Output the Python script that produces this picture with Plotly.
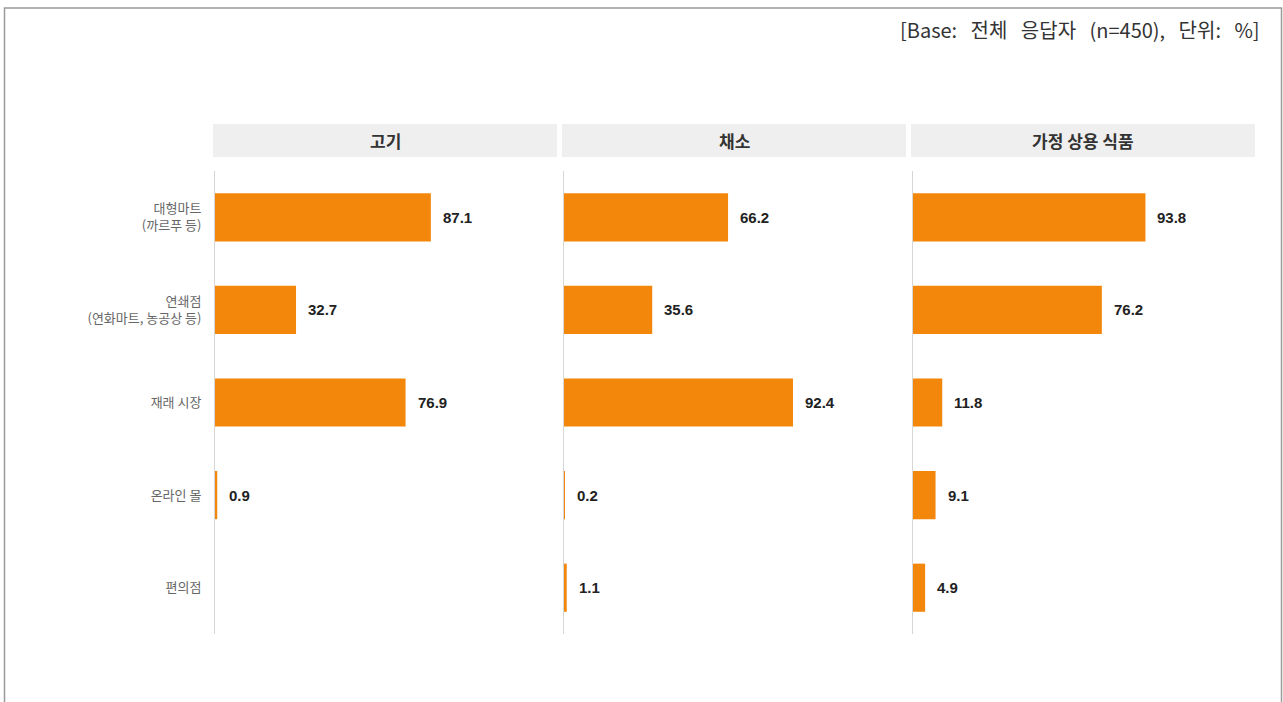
import plotly.graph_objects as go

W, H = 1283, 702

categories = ["대형마트<br>(까르푸 등)", "연쇄점<br>(연화마트, 농공상 등)", "재래 시장", "온라인 몰", "편의점"]
panel_titles = ["고기", "채소", "가정 상용 식품"]
meat = [87.1, 32.7, 76.9, 0.9, None]
vegetables = [66.2, 35.6, 92.4, 0.2, 1.1]
household_food = [93.8, 76.2, 11.8, 9.1, 4.9]
series = [meat, vegetables, household_food]
note = "[Base:   전체   응답자   (n=450),   단위:   %]"

BAR = "#F3870B"
FONT = "Noto Sans CJK KR"

panels_px = [(215, 557), (564, 906), (913, 1255)]
y_top_px, y_bot_px = 171, 634
xmax = 138

fig = go.Figure()
shapes = []
annotations = []

for i, (vals, title, (x0, x1)) in enumerate(zip(series, panel_titles, panels_px)):
    xa = "x" if i == 0 else f"x{i+1}"
    ya = "y" if i == 0 else f"y{i+1}"
    fig.add_trace(go.Bar(
        x=vals, y=categories, orientation="h",
        marker=dict(color=BAR, line=dict(width=0)),
        xaxis=xa, yaxis=ya, showlegend=False, hoverinfo="x+y",
    ))
    for c, v in zip(categories, vals):
        if v is None:
            continue
        annotations.append(dict(
            x=v, y=c, xref=xa, yref=ya, text=f"<b>{v:.1f}</b>",
            showarrow=False, xanchor="left", xshift=10,
            font=dict(family="Arial, Liberation Sans", size=15, color="#222"),
        ))
    key = "" if i == 0 else str(i + 1)
    fig.layout[f"xaxis{key}"] = dict(
        domain=[x0 / W, x1 / W], range=[0, xmax], visible=False, fixedrange=True,
    )
    fig.layout[f"yaxis{key}"] = dict(
        domain=[(H - y_bot_px) / H, (H - y_top_px) / H],
        categoryorder="array", categoryarray=categories[::-1],
        range=[-0.5, 4.5],
        showticklabels=(i == 0), ticks="", showgrid=False, zeroline=False,
        showline=True, linecolor="#d6d6d6", linewidth=1,
        anchor=xa, ticklabelstandoff=10,
        tickfont=dict(family=FONT, size=13, color="#666"),
    )
    # header strip
    shapes.append(dict(type="rect", xref="paper", yref="paper",
                       x0=(x0 - 2) / W, x1=x1 / W,
                       y0=(H - 157) / H, y1=(H - 124) / H,
                       fillcolor="#efefef", line=dict(width=0), layer="below"))
    annotations.append(dict(
        x=(x0 - 2 + x1) / 2 / W, y=(H - 140.5) / H, xref="paper", yref="paper",
        text=f"<b>{title}</b>", showarrow=False, xanchor="center", yanchor="middle",
        font=dict(family=FONT, size=17, color="#333"),
    ))

# outer frame
shapes.append(dict(type="path", xref="paper", yref="paper",
                   path=f"M {4.5/W} 0 L {4.5/W} {(H-8)/H} L {1281.5/W} {(H-8)/H} L {1281.5/W} 0",
                   line=dict(color="#9a9a9a", width=1.5)))

annotations.append(dict(
    x=1262 / W, y=(H - 30) / H, xref="paper", yref="paper", text=note,
    showarrow=False, xanchor="right", yanchor="middle",
    font=dict(family="Noto Sans CJK KR", size=20, color="#333"),
))

fig.update_layout(
    width=W, height=H,
    margin=dict(l=0, r=0, t=0, b=0),
    paper_bgcolor="white", plot_bgcolor="white",
    bargap=0.48,
    shapes=shapes, annotations=annotations,
    font=dict(family=FONT),
)

fig.write_html("out.html", config={"displayModeBar": False})
